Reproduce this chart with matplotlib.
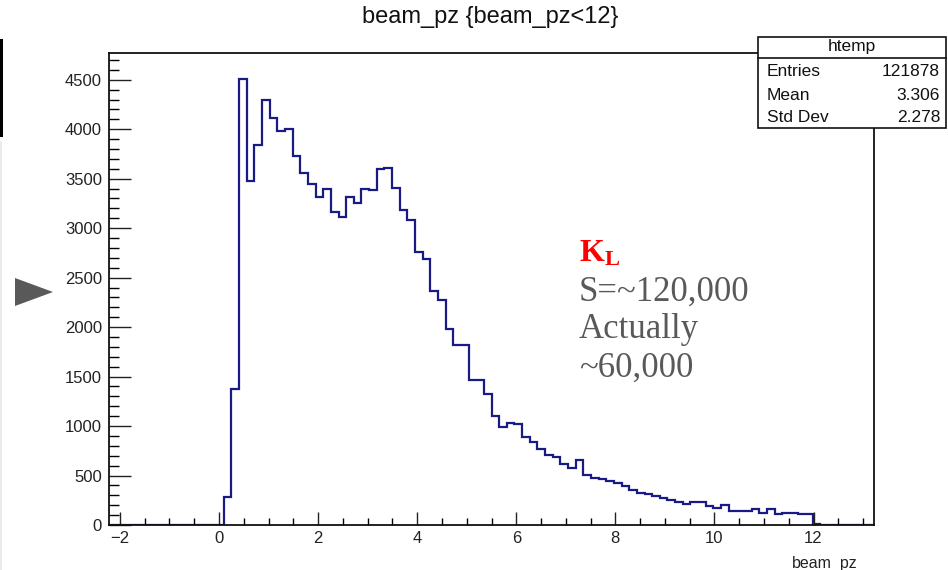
import numpy as np
import matplotlib
matplotlib.use("Agg")
import matplotlib.pyplot as plt
from matplotlib.patches import Rectangle, Polygon
from matplotlib.lines import Line2D
from matplotlib.ticker import MultipleLocator

# ---------------- data ----------------
x_min, x_max = -2.22, 13.22
n_bins = 100
counts = [0] * 15 + [
    280, 1370, 4510, 3475, 3840, 4290, 4110, 3985, 4000, 3730,
    3560, 3450, 3315, 3400, 3165, 3110, 3310, 3255, 3400, 3385,
    3595, 3605, 3405, 3180, 3085, 2760, 2685, 2360, 2270, 1985,
    1820, 1820, 1470, 1470, 1325, 1105, 995, 1030, 1020, 885,
    835, 765, 710, 690, 615, 578, 652, 503, 480, 463,
    446, 429, 395, 351, 321, 317, 294, 270, 253, 236,
    216, 233, 233, 192, 175, 200, 142, 142, 142, 159,
    118, 165, 108, 125, 120, 108, 108, 15,
] + [0] * 7
x_ticks = [-2, 0, 2, 4, 6, 8, 10, 12]
y_ticks = [0, 500, 1000, 1500, 2000, 2500, 3000, 3500, 4000, 4500]
title = "beam_pz {beam_pz<12}"
x_title = "beam_pz"
stats_name = "htemp"
stats_labels = ["Entries", "Mean", "Std Dev"]
stats_values = ["121878", "3.306", "2.278"]
particle = r"$\mathbf{K_{L}}$"
note_lines = ["S=~120,000", "Actually", "~60,000"]

# ---------------- figure ----------------
W, H = 948, 570
plt.rcParams["font.family"] = ["Liberation Sans", "DejaVu Sans"]
plt.rcParams["mathtext.fontset"] = "custom"
plt.rcParams["mathtext.bf"] = "Liberation Serif:bold"
plt.rcParams["mathtext.rm"] = "Liberation Serif"
fig = plt.figure(figsize=(W / 100, H / 100), dpi=100)

def fx(px):
    return px / W

def fy(py):
    return 1 - py / H

ax_l, ax_r, ax_t, ax_b = 109, 874, 53, 525
ax = fig.add_axes([fx(ax_l), fy(ax_b), (ax_r - ax_l) / W, (ax_b - ax_t) / H])

edges = np.linspace(x_min, x_max, n_bins + 1)
ax.stairs(counts, edges, color="#1a1a85", linewidth=1.6, zorder=1)

ax.set_xlim(x_min, x_max)
ax.set_ylim(0, 4770)
ax.set_xticks(x_ticks)
ax.set_yticks(y_ticks)
ax.xaxis.set_minor_locator(MultipleLocator(0.5))
ax.yaxis.set_minor_locator(MultipleLocator(100))
ax.tick_params(axis="x", which="major", direction="in", length=9.5, width=1.0,
               labelsize=12, pad=4, colors="#222222")
ax.tick_params(axis="x", which="minor", direction="in", length=5, width=1.0)
ax.tick_params(axis="y", which="major", direction="in", length=16, width=1.0,
               labelsize=12, pad=5, colors="#222222")
ax.tick_params(axis="y", which="minor", direction="in", length=7, width=1.0)
ax.tick_params(top=False, right=False, which="both")
for s in ax.spines.values():
    s.set_linewidth(1.3)
    s.set_color("#111111")
    s.set_zorder(3)

# title
fig.text(fx(490), fy(17), title, ha="center", va="center", fontsize=17,
         color="#111111")
# x axis title
fig.text(fx(858), fy(563), x_title, ha="right", va="center", fontsize=11.5,
         color="#222222")

# stats box
bx0, bx1, by0, by1, bh = 758, 946, 37, 128, 58
fig.patches.append(Rectangle((fx(bx0), fy(by1)), (bx1 - bx0) / W, (by1 - by0) / H,
                             transform=fig.transFigure, facecolor="white",
                             edgecolor="#111111", linewidth=1.2, zorder=5))
fig.lines.append(Line2D([fx(bx0), fx(bx1)], [fy(bh), fy(bh)],
                        transform=fig.transFigure, color="#111111", lw=1.2, zorder=6))
fig.text(fx((bx0 + bx1) / 2), fy(47), stats_name, ha="center", va="center",
         fontsize=12.5, color="#111111", zorder=7)
row_y = [72, 95, 118]
for lab, val, yy in zip(stats_labels, stats_values, row_y):
    fig.text(fx(767), fy(yy), lab, ha="left", va="center", fontsize=12.5,
             color="#111111", zorder=7)
    fig.text(fx(940), fy(yy), val, ha="right", va="center", fontsize=12.5,
             color="#111111", zorder=7)

# annotation
fig.text(fx(579), fy(261), particle, ha="left", va="baseline", fontsize=23,
         color="#ff0000")
for line, base in zip(note_lines, [301, 338, 377]):
    fig.text(fx(579), fy(base), line, ha="left", va="baseline", fontsize=25,
             family="Liberation Serif", color="#595959")

# left-edge slide decorations
fig.lines.append(Line2D([fx(1), fx(1)], [fy(40), fy(135)],
                        transform=fig.transFigure, color="black", lw=2.2))
fig.lines.append(Line2D([fx(1), fx(1)], [fy(142), fy(570)],
                        transform=fig.transFigure, color="#e6e6e6", lw=1.2))
fig.patches.append(Polygon([[fx(15), fy(278)], [fx(15), fy(306)], [fx(53), fy(292)]],
                           closed=True, transform=fig.transFigure,
                           facecolor="#595959", edgecolor="none"))

fig.savefig("out.png", dpi=100)
